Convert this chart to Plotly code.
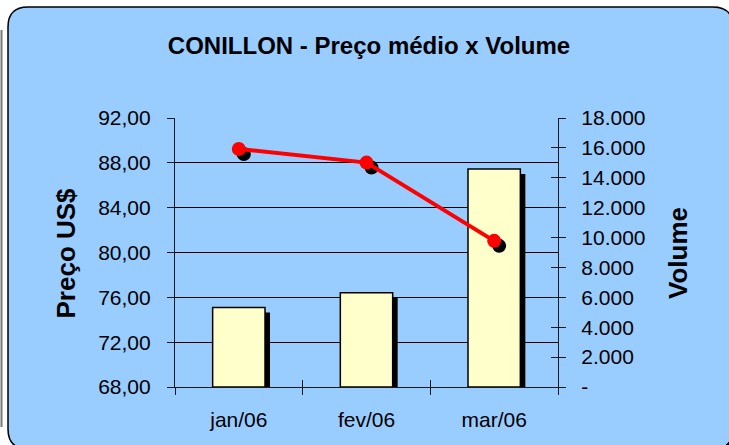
import plotly.graph_objects as go

# ---------------- data ----------------
categories = ["jan/06", "fev/06", "mar/06"]
volume = [5320, 6300, 14590]          # bars, right axis
price = [89.24, 88.02, 81.04]         # line, left axis
price_ticks = [68, 72, 76, 80, 84, 88, 92]
volume_ticks = [0, 2000, 4000, 6000, 8000, 10000, 12000, 14000, 16000, 18000]

price_labels = [f"{v:.2f}".replace(".", ",") for v in price_ticks]
volume_labels = ["-" if v == 0 else f"{v:,}".replace(",", ".") for v in volume_ticks]

# ---------------- layout constants ----------------
W, H = 729, 445
L, R, T, B = 175, 171, 118, 58
PW, PH = W - L - R, H - T - B
VOL_RANGE = [0, 18000]
PRICE_RANGE = [68, 92]
XR = [-0.5, len(categories) - 0.5]
SH = 5  # shadow offset in px

BLUE = "#99CCFF"
BAR = "#FFFFCC"
FONT = "Arial, Liberation Sans, sans-serif"

x_idx = list(range(len(categories)))
bound_ticks = [i - 0.5 for i in range(len(categories) + 1)]

dx = SH * (XR[1] - XR[0]) / PW
dy_vol = SH * (VOL_RANGE[1] - VOL_RANGE[0]) / PH
dy_price = SH * (PRICE_RANGE[1] - PRICE_RANGE[0]) / PH
BW = 0.41


def pxx(px):
    return (px - L) / PW


def pxy(py):
    return (H - B - py) / PH


def rounded(x0, y0, x1, y1, r):
    pts = [
        ("M", [(x0 + r, y0)]),
        ("L", [(x1 - r, y0)]),
        ("Q", [(x1, y0), (x1, y0 + r)]),
        ("L", [(x1, y1 - r)]),
        ("Q", [(x1, y1), (x1 - r, y1)]),
        ("L", [(x0 + r, y1)]),
        ("Q", [(x0, y1), (x0, y1 - r)]),
        ("L", [(x0, y0 + r)]),
        ("Q", [(x0, y0), (x0 + r, y0)]),
    ]
    s = ""
    for cmd, ps in pts:
        s += cmd + " " + " ".join(f"{pxx(a):.5f},{pxy(b):.5f}" for a, b in ps) + " "
    return s + "Z"


fig = go.Figure()

# bar shadows
fig.add_trace(go.Bar(
    x=x_idx, y=[v - dy_vol for v in volume], width=BW, offset=-BW / 2 + dx,
    marker=dict(color="black", line=dict(width=0)), xaxis="x", yaxis="y",
    hoverinfo="skip", showlegend=False))
# bars
fig.add_trace(go.Bar(
    x=x_idx, y=volume, width=BW, name="Volume",
    marker=dict(color=BAR, line=dict(color="black", width=1.5)),
    xaxis="x", yaxis="y", showlegend=False))
# marker shadows
fig.add_trace(go.Scatter(
    x=[i + dx for i in x_idx], y=[p - dy_price for p in price], mode="markers",
    marker=dict(color="black", size=14), xaxis="x", yaxis="y2",
    hoverinfo="skip", showlegend=False))
# price line
fig.add_trace(go.Scatter(
    x=x_idx, y=price, mode="lines+markers", name="Preço",
    line=dict(color="#FF0000", width=4),
    marker=dict(color="#FF0000", size=14),
    xaxis="x", yaxis="y2", showlegend=False))
# empty helpers for tick overlays
fig.add_trace(go.Scatter(x=[], y=[], xaxis="x2", yaxis="y", showlegend=False))
fig.add_trace(go.Scatter(x=[], y=[], xaxis="x3", yaxis="y", showlegend=False))
fig.add_trace(go.Scatter(x=[], y=[], xaxis="x", yaxis="y3", showlegend=False))

tickfont = dict(family=FONT, size=21, color="black")
axcol = "#1a1a1a"

fig.update_layout(
    width=W, height=H,
    margin=dict(l=L, r=R, t=T, b=B, pad=0),
    paper_bgcolor="white",
    plot_bgcolor=BLUE,
    barmode="overlay",
    title=dict(text="<b>CONILLON - Preço médio x Volume</b>",
               font=dict(family=FONT, size=24, color="black"),
               x=pxx(369), xref="paper", xanchor="center",
               y=1 - 46 / H, yref="container", yanchor="middle"),
    xaxis=dict(range=XR, tickvals=x_idx, ticktext=categories, ticks="",
               showline=True, linecolor=axcol, linewidth=1.2,
               showgrid=False, zeroline=False, tickfont=tickfont,
               ticklabelstandoff=14, fixedrange=True),
    xaxis2=dict(overlaying="x", anchor="y", side="bottom", range=XR,
                tickvals=bound_ticks, ticks="outside", ticklen=7,
                tickcolor=axcol, tickwidth=1.2,
                showticklabels=False, showgrid=False, zeroline=False,
                showline=False),
    xaxis3=dict(overlaying="x", anchor="y", side="bottom", range=XR,
                tickvals=bound_ticks, ticks="inside", ticklen=7,
                tickcolor=axcol, tickwidth=1.2,
                showticklabels=False, showgrid=False, zeroline=False,
                showline=False),
    yaxis=dict(range=VOL_RANGE, side="right", anchor="x",
               tickvals=volume_ticks, ticktext=volume_labels,
               ticks="outside", ticklen=7, tickcolor=axcol, tickwidth=1.2,
               showline=True, linecolor=axcol, linewidth=1.2,
               showgrid=False, zeroline=False, tickfont=tickfont,
               ticklabelstandoff=11),
    yaxis3=dict(range=VOL_RANGE, side="right", anchor="x", overlaying="y",
                tickvals=volume_ticks, ticks="inside", ticklen=7,
                tickcolor=axcol, tickwidth=1.2,
                showticklabels=False, showgrid=False, zeroline=False,
                showline=False),
    yaxis2=dict(range=PRICE_RANGE, side="left", anchor="x", overlaying="y",
                tickvals=price_ticks, ticktext=price_labels,
                ticks="outside", ticklen=7, tickcolor=axcol, tickwidth=1.2,
                showline=True, linecolor=axcol, linewidth=1.2,
                showgrid=True, gridcolor="black", gridwidth=1,
                zeroline=False, tickfont=tickfont, ticklabelstandoff=12),
    annotations=[
        dict(text="<b>Preço US$</b>", textangle=-90, showarrow=False,
             xref="paper", yref="paper", x=pxx(65.5), y=pxy(253),
             xanchor="center", yanchor="middle",
             font=dict(family=FONT, size=26, color="black")),
        dict(text="<b>Volume</b>", textangle=-90, showarrow=False,
             xref="paper", yref="paper", x=pxx(678), y=pxy(253),
             xanchor="center", yanchor="middle",
             font=dict(family=FONT, size=26, color="black")),
    ],
    shapes=[
        dict(type="line", xref="paper", yref="paper", layer="below",
             x0=pxx(1.5), x1=pxx(1.5), y0=pxy(30), y1=pxy(427),
             line=dict(color="#777777", width=2)),
        dict(type="path", xref="paper", yref="paper", layer="below",
             path=rounded(11, 10, 736, 452, 20),
             fillcolor="black", line=dict(width=0)),
        dict(type="path", xref="paper", yref="paper", layer="below",
             path=rounded(8, 7, 733, 449, 20),
             fillcolor=BLUE, line=dict(color="black", width=1.5)),
    ],
)

fig.write_html(
    "out.html",
    config={"displayModeBar": False},
    post_script="document.body.style.margin='0px';document.body.style.overflow='hidden';",
)
